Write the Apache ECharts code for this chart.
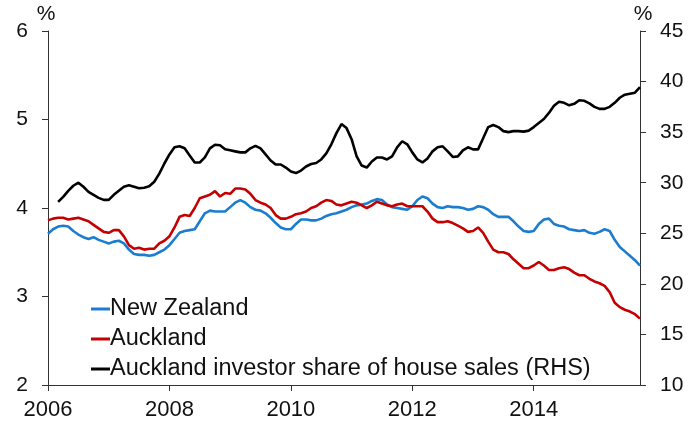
<!DOCTYPE html>
<html>
<head>
<meta charset="utf-8">
<script src="https://cdn.jsdelivr.net/npm/echarts@6/dist/echarts.min.js"></script>
<style>
  html, body { margin: 0; padding: 0; background: #fff; }
  #chart { width: 691px; height: 423px; }
</style>
</head>
<body>
<div id="chart"></div>
<script>
// monthly data, New Zealand and Auckland start Jan 2006
const startYear = 2006
const nzValues = [
    3.71, 3.76, 3.79, 3.80, 3.79, 3.74, 3.70, 3.67, 3.65, 3.67, 3.64, 3.62,
    3.60, 3.62, 3.63, 3.60, 3.53, 3.48, 3.47, 3.47, 3.46, 3.47, 3.50, 3.53,
    3.58, 3.65, 3.72, 3.74, 3.75, 3.76, 3.85, 3.94, 3.97, 3.96, 3.96, 3.96,
    4.01, 4.06, 4.09, 4.06, 4.01, 3.98, 3.97, 3.94, 3.89, 3.83, 3.78, 3.76,
    3.76, 3.82, 3.87, 3.87, 3.86, 3.86, 3.88, 3.91, 3.93, 3.94, 3.96, 3.98,
    4.01, 4.03, 4.04, 4.05, 4.08, 4.10, 4.09, 4.04, 4.01, 4.00, 3.99, 3.98,
    4.02, 4.09, 4.13, 4.11, 4.05, 4.01, 4.00, 4.02, 4.01, 4.01, 4.00, 3.98,
    3.99, 4.02, 4.01, 3.98, 3.93, 3.90, 3.90, 3.90, 3.85, 3.79, 3.74, 3.73,
    3.74, 3.82, 3.87, 3.88, 3.82, 3.80, 3.79, 3.76, 3.75, 3.74, 3.75, 3.72,
    3.71, 3.73, 3.76, 3.74, 3.64, 3.56, 3.51, 3.46, 3.41, 3.35
]
const aklValues = [
    3.86, 3.88, 3.89, 3.89, 3.87, 3.88, 3.89, 3.87, 3.85, 3.81, 3.77, 3.73,
    3.72, 3.75, 3.75, 3.68, 3.58, 3.54, 3.55, 3.53, 3.54, 3.54, 3.60, 3.63,
    3.68, 3.78, 3.90, 3.92, 3.91, 4.00, 4.11, 4.13, 4.15, 4.19, 4.13, 4.17,
    4.16, 4.22, 4.22, 4.21, 4.16, 4.09, 4.06, 4.04, 4.00, 3.92, 3.88, 3.88,
    3.90, 3.93, 3.94, 3.96, 4.00, 4.02, 4.06, 4.09, 4.08, 4.04, 4.03, 4.05,
    4.07, 4.06, 4.03, 4.00, 4.03, 4.07, 4.05, 4.03, 4.02, 4.04, 4.05, 4.02,
    4.02, 4.02, 4.02, 3.96, 3.88, 3.84, 3.84, 3.85, 3.83, 3.80, 3.77, 3.73,
    3.74, 3.78, 3.72, 3.62, 3.53, 3.50, 3.50, 3.48, 3.42, 3.37, 3.32, 3.32,
    3.35, 3.39, 3.35, 3.30, 3.30, 3.32, 3.33, 3.31, 3.27, 3.24, 3.24, 3.20,
    3.17, 3.15, 3.12, 3.05, 2.93, 2.88, 2.85, 2.83, 2.80, 2.75
]
// investor share starts Mar 2006
const investorStartMonth = 2
const investorValues = [
    28.1, 28.6, 29.2, 29.7, 30.0, 29.6, 29.1, 28.8, 28.5, 28.3,
    28.3, 28.8, 29.2, 29.6, 29.75, 29.6, 29.45, 29.5, 29.65, 30.1, 30.9, 31.9,
    32.8, 33.5, 33.6, 33.4, 32.7, 32.0, 32.0, 32.5, 33.4, 33.75, 33.7, 33.3,
    33.2, 33.1, 33.0, 33.0, 33.4, 33.65, 33.4, 32.8, 32.2, 31.8, 31.8, 31.5,
    31.1, 30.95, 31.2, 31.6, 31.85, 31.95, 32.3, 32.9, 33.8, 34.9, 35.8, 35.4,
    34.3, 32.6, 31.7, 31.5, 32.1, 32.5, 32.5, 32.3, 32.6, 33.5, 34.1, 33.8,
    33.0, 32.3, 32.0, 32.4, 33.1, 33.5, 33.6, 33.1, 32.55, 32.6, 33.2, 33.5,
    33.3, 33.3, 34.4, 35.5, 35.7, 35.5, 35.1, 35.0, 35.1, 35.1, 35.05, 35.15,
    35.5, 35.9, 36.3, 36.9, 37.6, 38.0, 37.9, 37.65, 37.8, 38.15, 38.1, 37.85,
    37.5, 37.3, 37.3, 37.5, 37.9, 38.4, 38.7, 38.8, 38.9, 39.45
]
const xTicks = [2006, 2008, 2010, 2012, 2014]

function toPoints(values, firstMonth) {
    return values.map((v, i) => [startYear + (firstMonth + i) / 12, v])
}

const myChart = echarts.init(document.getElementById('chart'))
const font = 'Liberation Sans, Arial, sans-serif'
const axisColor = '#333'

const option = {
    animation: false,
    grid: {left: 48, right: 51, top: 31, bottom: 38},
    legend: {
        orient: 'vertical',
        left: 86,
        top: 292,
        itemWidth: 19,
        itemHeight: 3,
        itemGap: 6,
        icon: 'rect',
        textStyle: {
            fontFamily: font, fontSize: 23.5, color: '#111', lineHeight: 22,
            padding: [0, 0, 0, -5]
        },
        data: ['New Zealand', 'Auckland', 'Auckland investor share of house sales (RHS)']
    },
    xAxis: {
        type: 'value',
        min: 2006,
        max: 2015.75,
        interval: 2,
        splitLine: {show: false},
        axisLine: {lineStyle: {color: axisColor, width: 1}},
        axisTick: {length: 6, lineStyle: {color: axisColor}},
        axisLabel: {
            margin: 14,
            fontFamily: font,
            fontSize: 22,
            color: '#111',
            showMaxLabel: false,
            formatter: v => xTicks.includes(v) ? String(v) : ''
        }
    },
    yAxis: [
        {
            type: 'value',
            position: 'left',
            min: 2, max: 6, interval: 1,
            name: '%',
            nameLocation: 'end',
            nameGap: 6,
            nameTextStyle: {fontFamily: font, fontSize: 21, color: '#111', padding: [0, 0, 0, -4]},
            splitLine: {show: false},
            axisLine: {show: true, lineStyle: {color: axisColor, width: 1}},
            axisTick: {show: true, length: 6, lineStyle: {color: axisColor}},
            axisLabel: {margin: 20, fontFamily: font, fontSize: 21, color: '#111'}
        },
        {
            type: 'value',
            position: 'right',
            min: 10, max: 45, interval: 5,
            name: '%',
            nameLocation: 'end',
            nameGap: 6,
            nameTextStyle: {fontFamily: font, fontSize: 21, color: '#111', padding: [0, 0, 0, 6]},
            splitLine: {show: false},
            axisLine: {show: true, lineStyle: {color: axisColor, width: 1}},
            axisTick: {show: true, length: 6, lineStyle: {color: axisColor}},
            axisLabel: {margin: 20, fontFamily: font, fontSize: 21, color: '#111'}
        }
    ],
    series: [
        {
            name: 'New Zealand',
            type: 'line',
            yAxisIndex: 0,
            showSymbol: false,
            color: '#1b7dd0',
            lineStyle: {width: 2.6},
            data: toPoints(nzValues, 0)
        },
        {
            name: 'Auckland',
            type: 'line',
            yAxisIndex: 0,
            showSymbol: false,
            color: '#c40000',
            lineStyle: {width: 2.6},
            data: toPoints(aklValues, 0)
        },
        {
            name: 'Auckland investor share of house sales (RHS)',
            type: 'line',
            yAxisIndex: 1,
            showSymbol: false,
            color: '#000000',
            lineStyle: {width: 2.6},
            data: toPoints(investorValues, investorStartMonth)
        }
    ]
}

myChart.setOption(option)
</script>
</body>
</html>
